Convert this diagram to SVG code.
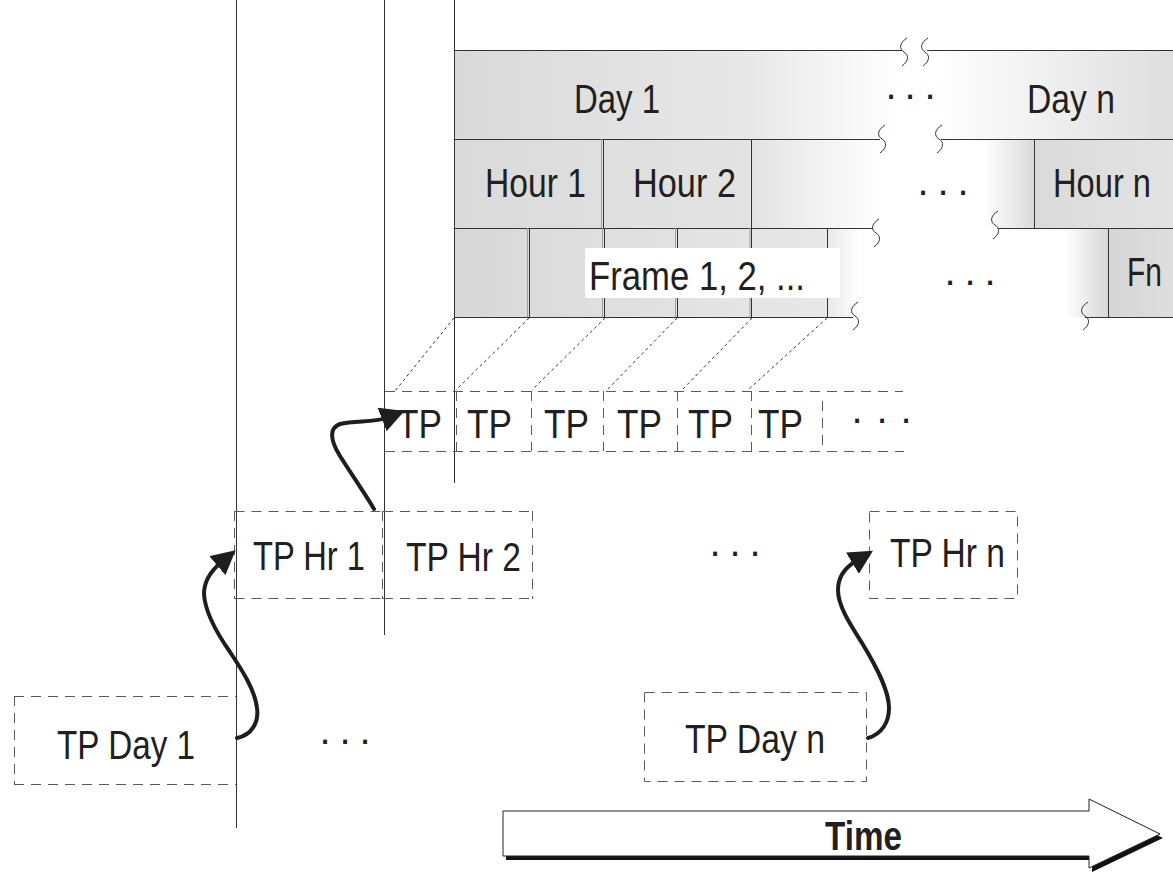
<svg xmlns="http://www.w3.org/2000/svg" width="1173" height="872" viewBox="0 0 1173 872">
<style>
.lbl{font-family:"Liberation Sans Narrow","Liberation Sans",Arial,sans-serif;font-size:40px;fill:#231f20}
.bold{font-weight:bold}
.dots{font-family:"Liberation Sans",Arial,sans-serif;font-size:40px;fill:#231f20}
.dash{fill:none;stroke:#5a5a5a;stroke-width:1;stroke-dasharray:10 7}
.solid{stroke:#333;stroke-width:1;fill:none}
.light{stroke:#a0a0a0;stroke-width:1;fill:none}
.sq{fill:none;stroke:#333;stroke-width:1}
.curve{fill:none;stroke:#1e1e1e;stroke-width:4;stroke-linecap:round;stroke-linejoin:round;marker-end:url(#ah)}
.diag{stroke:#333;stroke-width:1;stroke-dasharray:3 3}
</style>
<defs>
<marker id="ah" markerUnits="userSpaceOnUse" viewBox="0 0 24 24" markerWidth="25" markerHeight="25" refX="4" refY="12" orient="auto">
<path d="M0,0 L23,12 L0,24 z" fill="#1e1e1e"/>
</marker>
<linearGradient id="gDay" gradientUnits="userSpaceOnUse" x1="454" y1="0" x2="1173" y2="0">
<stop offset="0" stop-color="#d9d9d9"/>
<stop offset="0.41" stop-color="#e8e8e8"/>
<stop offset="0.62" stop-color="#ffffff"/>
<stop offset="0.67" stop-color="#ffffff"/>
<stop offset="1" stop-color="#dedede"/>
</linearGradient>
<linearGradient id="gHour" gradientUnits="userSpaceOnUse" x1="454" y1="0" x2="1173" y2="0">
<stop offset="0" stop-color="#dadada"/>
<stop offset="0.413" stop-color="#e3e3e3"/>
<stop offset="0.592" stop-color="#ffffff"/>
<stop offset="0.737" stop-color="#ffffff"/>
<stop offset="0.807" stop-color="#dadada"/>
<stop offset="1" stop-color="#e3e3e3"/>
</linearGradient>
<linearGradient id="gFrame" gradientUnits="userSpaceOnUse" x1="454" y1="0" x2="1173" y2="0">
<stop offset="0" stop-color="#d8d8d8"/>
<stop offset="0.519" stop-color="#e8e8e8"/>
<stop offset="0.565" stop-color="#ffffff"/>
<stop offset="0.85" stop-color="#ffffff"/>
<stop offset="0.911" stop-color="#d6d6d6"/>
<stop offset="1" stop-color="#dedede"/>
</linearGradient>
</defs>
<rect width="1173" height="872" fill="#ffffff"/>

<g id="day-row">
<rect x="454" y="50" width="719" height="89" fill="url(#gDay)"/>
<line class="solid" x1="454" y1="50.5" x2="902" y2="50.5"/>
<line class="solid" x1="927" y1="50.5" x2="1173" y2="50.5"/>
<path class="sq" d="M907,38 C899,43 899,49 904,52 C909,55 909,61 902,66"/>
<path class="sq" d="M928,38 C920,43 920,49 925,52 C930,55 930,61 923,66"/>
<text class="lbl" x="574" y="113" textLength="86" lengthAdjust="spacingAndGlyphs">Day 1</text>
<text class="dots" x="885.4 904.4 924.4" y="99">...</text>
<text class="lbl" x="1027" y="113" textLength="88" lengthAdjust="spacingAndGlyphs">Day n</text>
</g>

<g id="hour-row">
<rect x="454" y="139" width="719" height="89" fill="url(#gHour)"/>
<line class="solid" x1="454" y1="139.5" x2="880" y2="139.5"/>
<line class="solid" x1="941" y1="139.5" x2="1173" y2="139.5"/>
<path class="sq" d="M885,125 C877,130 877,136 882,139 C887,142 887,148 880,153"/>
<path class="sq" d="M942,125 C934,130 934,136 939,139 C944,142 944,148 937,153"/>
<line class="light" x1="601.5" y1="139" x2="601.5" y2="228"/>
<line class="solid" x1="603.5" y1="139" x2="603.5" y2="228"/>
<line class="solid" x1="751.5" y1="139" x2="751.5" y2="228"/>
<line class="solid" x1="1034.5" y1="139" x2="1034.5" y2="228"/>
<text class="lbl" x="485" y="197" textLength="101" lengthAdjust="spacingAndGlyphs">Hour 1</text>
<text class="lbl" x="633" y="197" textLength="103" lengthAdjust="spacingAndGlyphs">Hour 2</text>
<text class="dots" x="917.4 937.4 957.4" y="195">...</text>
<text class="lbl" x="1053" y="197" textLength="98" lengthAdjust="spacingAndGlyphs">Hour n</text>
</g>

<g id="frame-row">
<rect x="454" y="228" width="719" height="89" fill="url(#gFrame)"/>
<line class="solid" x1="454" y1="228.5" x2="873" y2="228.5"/>
<line class="solid" x1="998" y1="228.5" x2="1173" y2="228.5"/>
<line class="solid" x1="454" y1="317.5" x2="853" y2="317.5"/>
<line class="solid" x1="1085" y1="317.5" x2="1173" y2="317.5"/>
<path class="sq" d="M879,219 C871,224 871,230 876,233 C881,236 881,242 874,247"/>
<path class="sq" d="M998,211 C990,216 990,222 995,225 C1000,228 1000,234 993,239"/>
<path class="sq" d="M858,302 C850,307 850,313 855,316 C860,319 860,325 853,330"/>
<path class="sq" d="M1088,302 C1080,307 1080,313 1085,316 C1090,319 1090,325 1083,330"/>
<line class="light" x1="527.5" y1="228" x2="527.5" y2="317"/>
<line class="solid" x1="529.5" y1="228" x2="529.5" y2="317"/>
<line class="light" x1="602.5" y1="228" x2="602.5" y2="317"/>
<line class="solid" x1="604.5" y1="228" x2="604.5" y2="317"/>
<line class="light" x1="675.5" y1="228" x2="675.5" y2="317"/>
<line class="solid" x1="677.5" y1="228" x2="677.5" y2="317"/>
<line class="light" x1="750" y1="228" x2="750" y2="317"/>
<line class="solid" x1="751.5" y1="228" x2="751.5" y2="317"/>
<line class="solid" x1="827.5" y1="228" x2="827.5" y2="317"/>
<line class="solid" x1="1108.5" y1="228" x2="1108.5" y2="317"/>
<rect x="585" y="248" width="255" height="50" fill="#ffffff"/>
<text class="lbl" x="589" y="290" textLength="216" lengthAdjust="spacingAndGlyphs">Frame 1, 2, ...</text>
<text class="dots" x="944.4 964.4 984.4" y="285">...</text>
<text class="lbl" x="1127" y="286" textLength="35" lengthAdjust="spacingAndGlyphs">Fn</text>
</g>

<g id="axes">
<line class="solid" x1="236.5" y1="0" x2="236.5" y2="828"/>
<line class="solid" x1="384.5" y1="0" x2="384.5" y2="635"/>
<line class="solid" x1="454.5" y1="0" x2="454.5" y2="483"/>
</g>

<g id="tp-row">
<line class="dash" x1="385" y1="391.5" x2="903" y2="391.5"/>
<line class="dash" x1="385" y1="451.5" x2="904" y2="451.5"/>
<line class="dash" x1="456.5" y1="391" x2="456.5" y2="451"/>
<line class="dash" x1="531.5" y1="391" x2="531.5" y2="451"/>
<line class="dash" x1="603.5" y1="391" x2="603.5" y2="451"/>
<line class="dash" x1="677.5" y1="391" x2="677.5" y2="451"/>
<line class="dash" x1="751.5" y1="391" x2="751.5" y2="451"/>
<line class="dash" x1="822.5" y1="401" x2="822.5" y2="451"/>
<text class="lbl" x="397" y="438" textLength="45" lengthAdjust="spacingAndGlyphs">TP</text>
<text class="lbl" x="467" y="438" textLength="45" lengthAdjust="spacingAndGlyphs">TP</text>
<text class="lbl" x="544" y="438" textLength="45" lengthAdjust="spacingAndGlyphs">TP</text>
<text class="lbl" x="617" y="438" textLength="45" lengthAdjust="spacingAndGlyphs">TP</text>
<text class="lbl" x="688" y="438" textLength="45" lengthAdjust="spacingAndGlyphs">TP</text>
<text class="lbl" x="758" y="438" textLength="45" lengthAdjust="spacingAndGlyphs">TP</text>
<text class="dots" x="851.4 876.4 900.4" y="423">...</text>
</g>

<g id="tp-hr-1">
<line class="dash" x1="234.5" y1="511.5" x2="383" y2="511.5"/>
<line class="dash" x1="234.5" y1="598.5" x2="383" y2="598.5"/>
<line class="dash" x1="234.5" y1="511" x2="234.5" y2="599"/>
<text class="lbl" x="253" y="570" textLength="112" lengthAdjust="spacingAndGlyphs">TP Hr 1</text>
</g>
<g id="tp-hr-2">
<line class="dash" x1="383" y1="511.5" x2="533" y2="511.5"/>
<line class="dash" x1="383" y1="598.5" x2="533" y2="598.5"/>
<line class="dash" x1="382.5" y1="511" x2="382.5" y2="599"/>
<line class="dash" x1="532.5" y1="511" x2="532.5" y2="599"/>
<text class="lbl" x="406" y="571" textLength="115" lengthAdjust="spacingAndGlyphs">TP Hr 2</text>
</g>
<g id="tp-hr-dots">
<text class="dots" x="709.4 729.4 749.4" y="556">...</text>
</g>
<g id="tp-hr-n">
<rect class="dash" x="869.5" y="511.5" width="148" height="87"/>
<text class="lbl" x="890" y="567" textLength="115" lengthAdjust="spacingAndGlyphs">TP Hr n</text>
</g>

<g id="tp-day-1">
<line class="dash" x1="14" y1="696.5" x2="236" y2="696.5"/>
<line class="dash" x1="14" y1="784.5" x2="236" y2="784.5"/>
<line class="dash" x1="14.5" y1="696" x2="14.5" y2="784"/>
<text class="lbl" x="57" y="759" textLength="138" lengthAdjust="spacingAndGlyphs">TP Day 1</text>
</g>
<g id="tp-day-dots">
<text class="dots" x="319.4 339.4 359.4" y="744">...</text>
</g>
<g id="tp-day-n">
<rect class="dash" x="644.5" y="692.5" width="222" height="89"/>
<text class="lbl" x="685" y="753" textLength="140" lengthAdjust="spacingAndGlyphs">TP Day n</text>
</g>

<g id="connectors">
<line class="diag" x1="454" y1="318" x2="395" y2="391"/>
<line class="diag" x1="529" y1="318" x2="456" y2="390"/>
<line class="diag" x1="605" y1="318" x2="532" y2="390"/>
<line class="diag" x1="677" y1="318" x2="607" y2="390"/>
<line class="diag" x1="752" y1="318" x2="682" y2="390"/>
<line class="diag" x1="827" y1="318" x2="748" y2="390"/>
<path class="curve" d="M237,738 C252,735 259,722 257,708 C255,690 242,670 230,652 C216,632 205,612 204,594 C204,580 211,571 220.5,563"/>
<path class="curve" d="M374,509 C366,495 350,472 340,456 C330,440 329,428 340,424 C355,420 373,423 386,418"/>
<path class="curve" d="M868,738 C882,734 889,722 889,708 C889,690 876,666 862,643 C850,624 838,606 838,590 C838,576 846,567 856,561"/>
</g>

<g id="time-arrow">
<polygon points="506,815 1092,815 1092,803 1163,838 1092,872 1092,860 506,860" fill="#111"/>
<polygon points="503,811 1089,811 1089,799 1160,834 1089,868 1089,856 503,856" fill="#ffffff" stroke="#222" stroke-width="1"/>
<text class="lbl bold" x="825" y="850" textLength="77" lengthAdjust="spacingAndGlyphs">Time</text>
</g>
</svg>
